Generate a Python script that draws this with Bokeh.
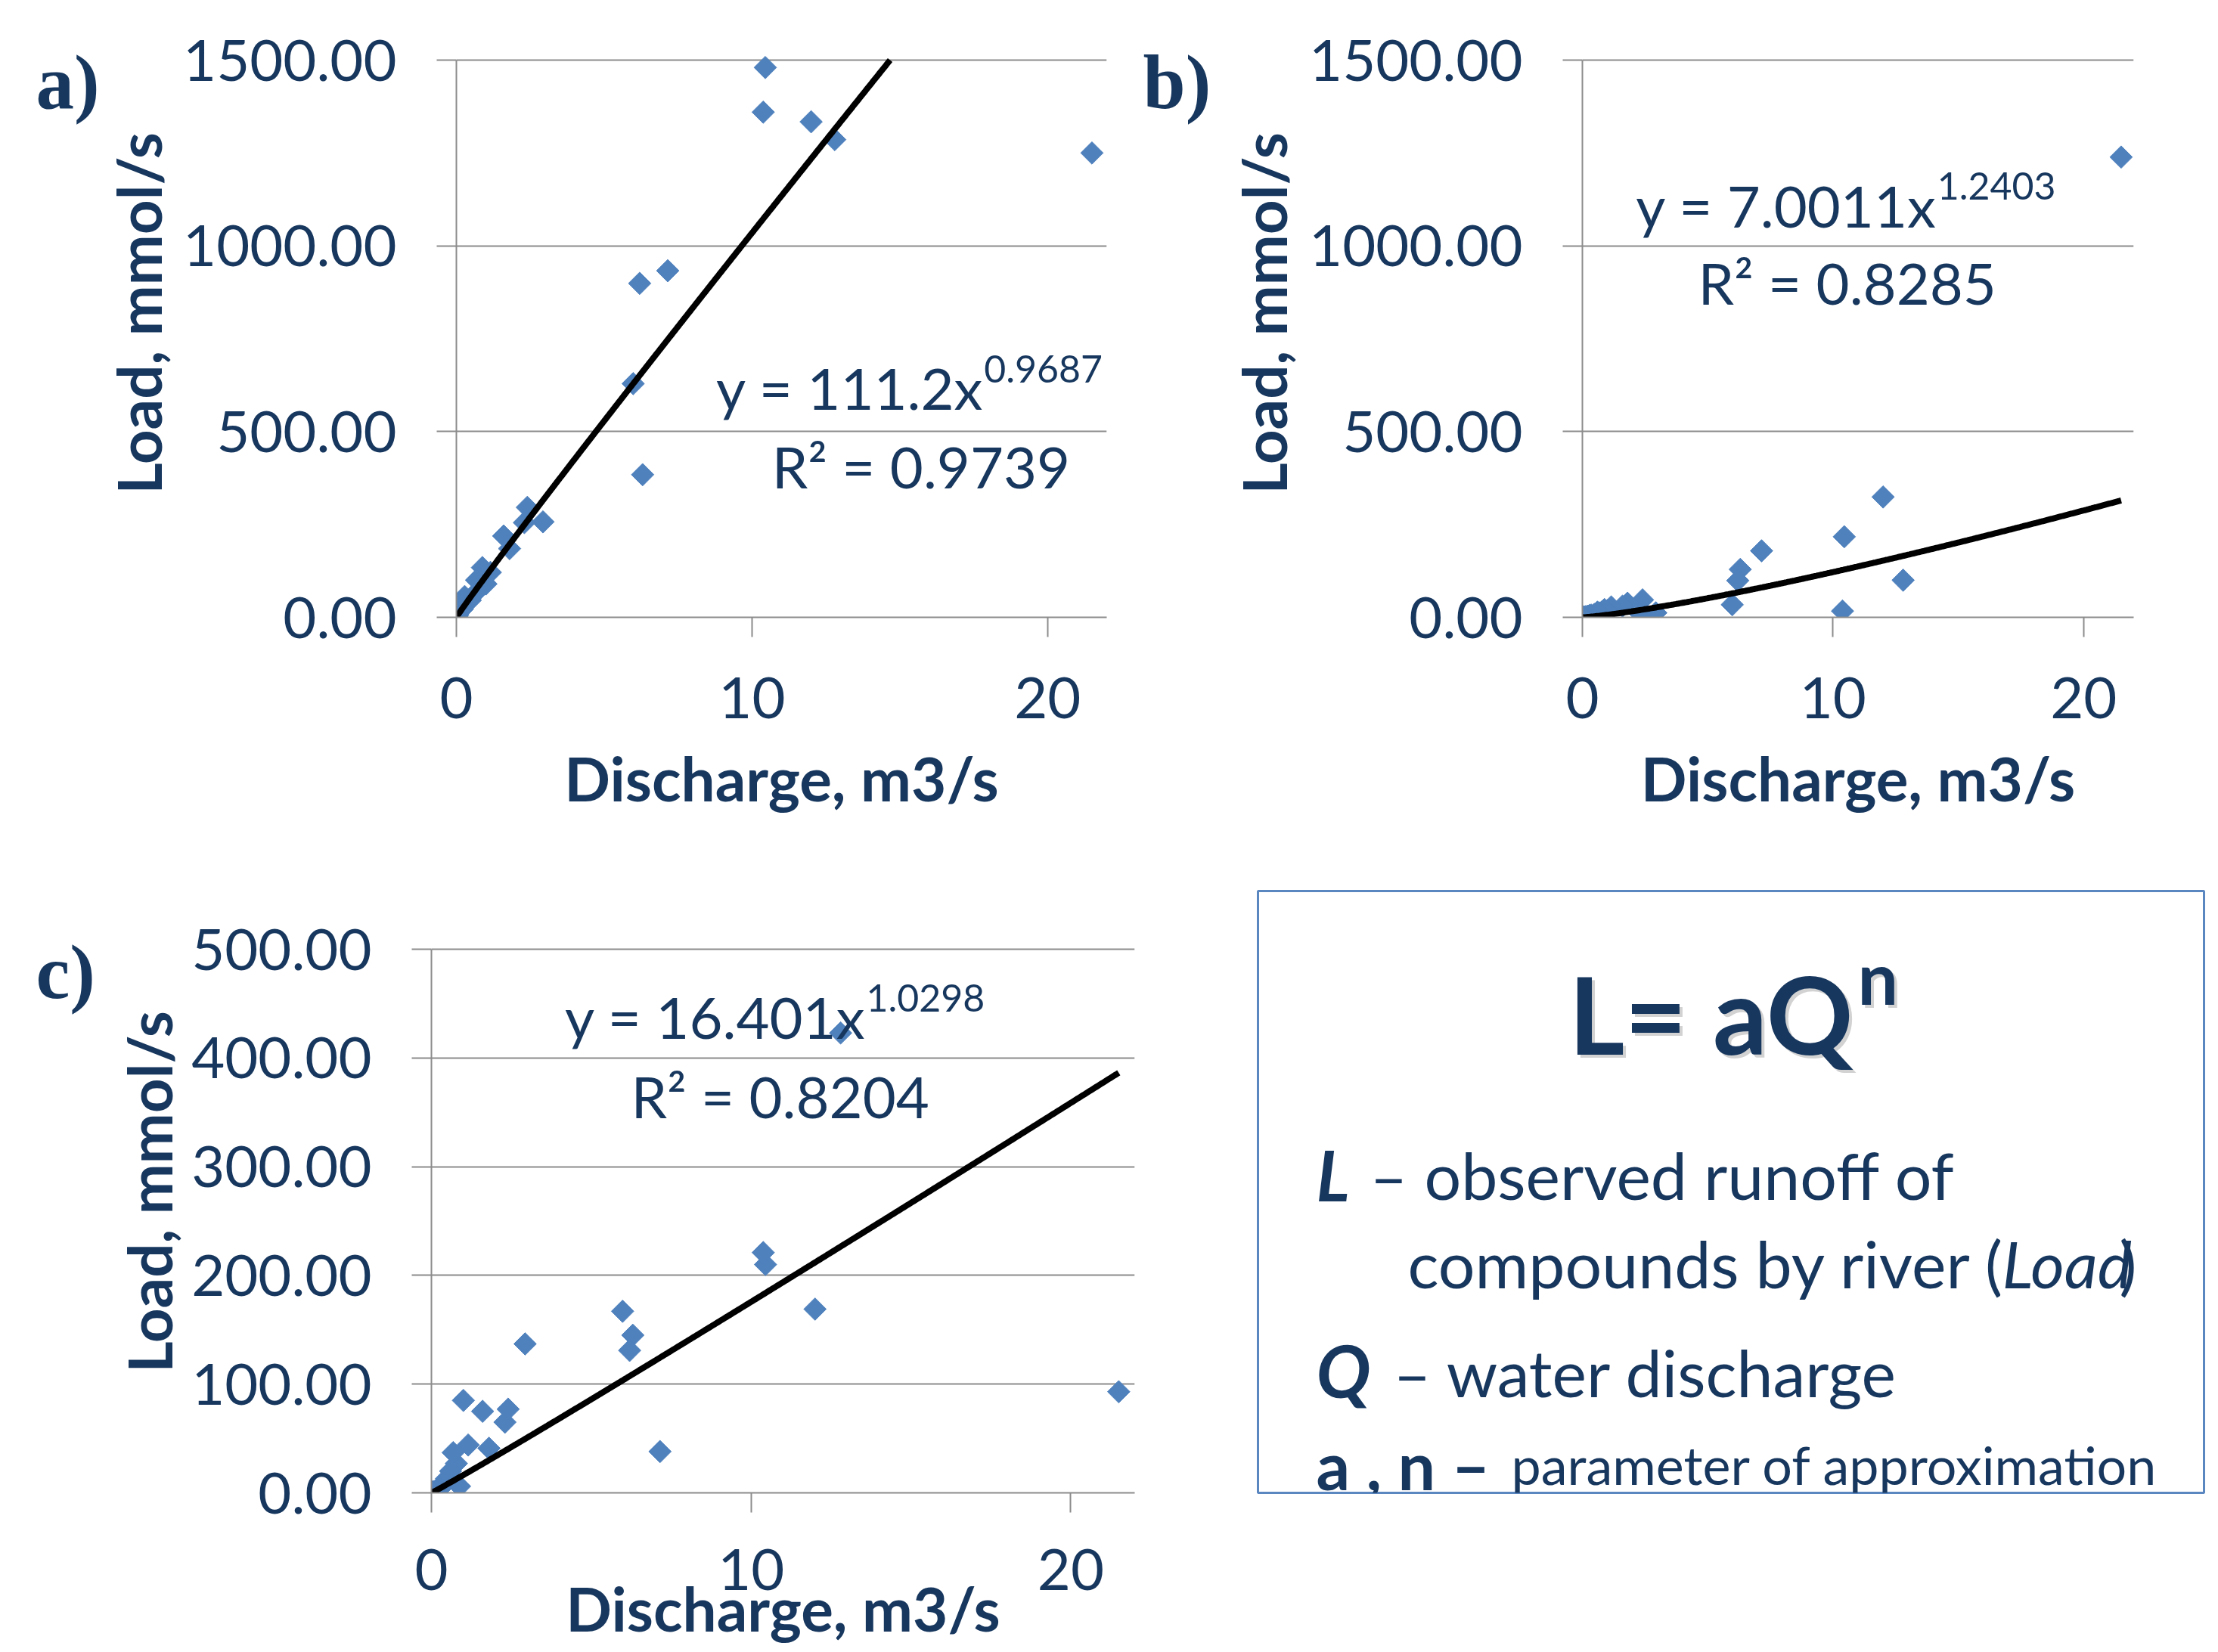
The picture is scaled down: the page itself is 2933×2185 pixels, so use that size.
import numpy as np
from bokeh.plotting import figure
from bokeh.models import Range1d, FixedTicker, NumeralTickFormatter, Label
from bokeh.core.properties import value
from bokeh.layouts import column, row
from bokeh.embed import file_html
from bokeh.resources import INLINE

# ---------------- data ----------------
discharge = [21.5, 12.8, 12.0, 10.45, 10.38, 7.15, 6.3, 6.2, 5.98, 2.93, 2.4, 2.3,
             1.8, 1.6, 1.15, 1.0, 0.88, 0.78, 0.68, 0.6, 0.47, 0.35, 0.28, 0.2,
             0.13, 0.08, 0.04, 0.02]
load_a = [1250, 1286, 1334, 1480, 1360, 933, 384, 899, 629, 257, 296, 255,
          185, 219, 121, 90, 134, 107, 100, 62, 46, 45, 56, 22, 33, 12, 6, 3]
load_b = [1239, 100, 324, 217, 17, 179, 129, 99, 34, 12, 47, 10,
          38, 30, 28, 18, 21, 15, 12, 14, 8, 6, 5, 3, 2, 1, 1, 0.5]
load_c = [93, 423, 169, 210, 221, 38, 145, 131, 167, 137, 77, 65,
          41, 75, 44, 85, 6, 27, 37, 20, 13, 8, 4, 3, 2, 1, 1, 0.5]

fit_a = (111.2, 0.9687)
fit_b = (7.0011, 1.2403)
fit_c = (16.401, 1.0298)
eq_a = ("y = 111.2x", "0.9687", "R² = 0.9739")
eq_b = ("y = 7.0011x", "1.2403", "R² = 0.8285")
eq_c = ("y = 16.401x", "1.0298", "R² = 0.8204")

x_ticks = [0, 10, 20]
y_ticks_ab = [0, 500, 1000, 1500]
y_ticks_c = [0, 100, 200, 300, 400, 500]
x_title = "Discharge, m3/s"
y_title = "Load, mmol/s"

# ---------------- styles ----------------
TEXT = "#17375E"
BLUE = "#4F81BD"
GRID = "#8C8C8C"
FONT = "Lato"
TICK_SIZE = "76px"

# row geometry (px); frames in one row share top/bottom borders
ROW1_H, ROW1_TOP, ROW1_BOT = 1108, 12, 292
ROW2_H, ROW2_TOP, ROW2_BOT = 1077, 70, 211


def panel(loads, fit, eq, ymax, yticks, width, height, borders, frame_extra,
          eq_pos, xtick_standoff, xtitle_standoff, ytitle_standoff):
    bl, br, bt, bb = borders
    frame_h = height - bt - bb
    # the frame reaches a little above the top tick (room for panel letters)
    y_end = ymax * frame_h / (frame_h - frame_extra)
    p = figure(width=width, height=height, x_range=Range1d(0, 22),
               y_range=Range1d(0, y_end), output_backend="svg", title=None,
               toolbar_location=None, min_border_left=bl, min_border_right=br,
               min_border_top=bt, min_border_bottom=bb)
    p.outline_line_color = None
    p.xgrid.visible = False
    p.ygrid.grid_line_color = GRID
    p.ygrid.grid_line_width = 2
    p.ygrid.ticker = FixedTicker(ticks=yticks)

    for ax in (p.xaxis[0], p.yaxis[0]):
        ax.axis_line_color = GRID
        ax.axis_line_width = 2
        ax.major_tick_line_color = GRID
        ax.major_tick_line_width = 2
        ax.major_tick_out = 26
        ax.major_tick_in = 0
        ax.minor_tick_out = 0
        ax.minor_tick_in = 0
        ax.major_label_text_font = FONT
        ax.major_label_text_font_size = TICK_SIZE
        ax.major_label_text_color = TEXT
        ax.axis_label_text_font = FONT
        ax.axis_label_text_font_style = "bold"
        ax.axis_label_text_font_size = "80px"
        ax.axis_label_text_color = TEXT

    p.xaxis.ticker = FixedTicker(ticks=x_ticks)
    p.xaxis.major_label_standoff = xtick_standoff
    p.xaxis.axis_label = x_title
    p.xaxis.axis_label_standoff = xtitle_standoff

    p.yaxis.ticker = FixedTicker(ticks=yticks)
    p.yaxis.bounds = (0, ymax)
    p.yaxis.formatter = NumeralTickFormatter(format="0.00")
    p.yaxis.major_label_standoff = 53
    p.yaxis.axis_label = y_title
    p.yaxis.axis_label_standoff = ytitle_standoff

    p.scatter(discharge, loads, marker="square", angle=np.pi / 4, size=21,
              fill_color=BLUE, line_color=BLUE)

    a, n = fit
    x_end = min(max(discharge), (ymax / a) ** (1.0 / n))
    xs = np.linspace(min(discharge), x_end, 400)
    p.line(xs, a * xs ** n, line_color="black", line_width=8)

    ex, ey_main, ey_sup, rx, ry = eq_pos
    p.add_layout(Label(x=ex, y=ey_main, text=eq[0], text_align="right",
                       text_baseline="alphabetic", text_font=FONT,
                       text_font_size="76px", text_color=TEXT))
    p.add_layout(Label(x=ex, y=ey_sup, text=eq[1], text_align="left",
                       text_baseline="alphabetic", text_font=FONT,
                       text_font_size="50px", text_color=TEXT))
    p.add_layout(Label(x=rx, y=ry, text=eq[2], text_align="center",
                       text_baseline="alphabetic", text_font=FONT,
                       text_font_size="76px", text_color=TEXT))
    return p


def plain_fig(width, height, top, bottom, xr=None, yr=None, left=0, right=0):
    fw = width - left - right
    fh = height - top - bottom
    f = figure(width=width, height=height,
               x_range=Range1d(0, xr if xr else fw), y_range=Range1d(0, yr if yr else fh),
               x_axis_type=None, y_axis_type=None, output_backend="svg",
               toolbar_location=None, title=None, min_border_left=left,
               min_border_right=right, min_border_top=top, min_border_bottom=bottom)
    f.outline_line_color = None
    return f


def put(f, x, y, s, size, style="normal", align="left", color=TEXT, alpha=1.0,
        font=FONT):
    f.text(x=[x], y=[y], text=[s], text_align=align, text_baseline="alphabetic",
           text_font=value(font), text_font_size=size, text_font_style=style,
           text_color=color, text_alpha=alpha)


def letter_fig(letter, width, height, top, bottom, lx, ly):
    f = plain_fig(width, height, top, bottom)
    put(f, lx, ly, letter, "101px", "bold", font="Liberation Serif")
    return f


# ---- row 1 ----
la = letter_fig("a)", 132, ROW1_H, ROW1_TOP, ROW1_BOT, 47, 708)
pa = panel(load_a, fit_a, eq_a, 1500, y_ticks_ab, 1368, ROW1_H,
           (461, 37, ROW1_TOP, ROW1_BOT), 79 - ROW1_TOP,
           (17.85, 619, 669, 15.72, 407), 53, 28, 8)
lb = letter_fig("b)", 120, ROW1_H, ROW1_TOP, ROW1_BOT, 11, 708)
pb = panel(load_b, fit_b, eq_b, 1500, y_ticks_ab, 1305, ROW1_H,
           (466, 104, ROW1_TOP, ROW1_BOT), 79 - ROW1_TOP,
           (14.16, 1109, 1162, 10.57, 901), 53, 28, 9)

# ---- row 2 ----
lc = letter_fig("c)", 140, ROW2_H, ROW2_TOP, ROW2_BOT, 47, 689)
pc = panel(load_c, fit_c, eq_c, 500, y_ticks_c, 1460, ROW2_H,
           (430, 100, ROW2_TOP, ROW2_BOT), 1255 - 1108 - ROW2_TOP,
           (13.60, 438, 455, 10.91, 365), 48, -27, 5)

# formula box: frame = the blue box, coordinates in px from its bottom-left
box = plain_fig(1325, ROW2_H, ROW2_TOP, ROW2_BOT, left=63, right=11)
box.outline_line_color = "#5B87C0"
box.outline_line_width = 3

put(box, 791, 631, "L= aQ", "142px", "bold", "right", "#7F7F7F", 0.35)
put(box, 797, 679, "n", "95px", "bold", "left", "#7F7F7F", 0.35)
put(box, 787, 635, "L= aQ", "142px", "bold", "right")
put(box, 793, 683, "n", "95px", "bold", "left")

put(box, 77, 421, "L", "92px", "bold italic")
put(box, 148, 421, "– observed runoff of", "86px")
put(box, 198, 304, "compounds by river (", "86px")
put(box, 984, 304, "Load", "86px", "italic")
put(box, 1139, 304, ")", "86px")
put(box, 77, 163, "Q", "96px", "bold italic")
put(box, 179, 160, "– water discharge", "86px")
put(box, 77, 38, "a , n –", "88px", "bold")
put(box, 335, 38, "parameter of approximation", "70px")

layout = column(row(la, pa, lb, pb), row(lc, pc, box))
open("out.html", "w").write(file_html(layout, INLINE))
